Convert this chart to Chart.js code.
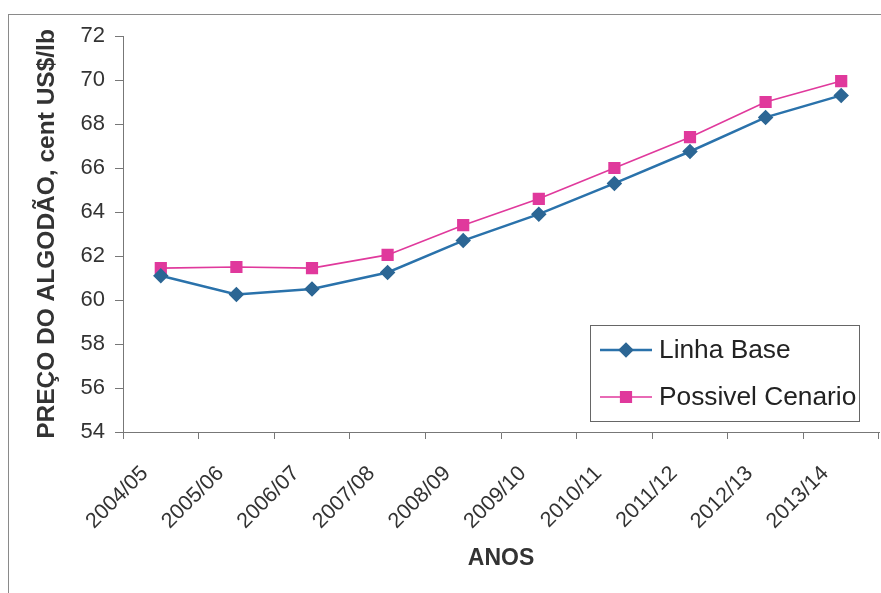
<!DOCTYPE html>
<html>
<head>
<meta charset="utf-8">
<script src="https://cdn.jsdelivr.net/npm/chart.js@4.4.0/dist/chart.umd.min.js"></script>
<style>
  body { margin: 0; background: #fff; }
  #wrap { position: relative; width: 881px; height: 593px; }
  #frame { position: absolute; left: 8px; top: 14px; right: 0; bottom: 0; border-left: 1px solid #8a8a8a; border-top: 1px solid #8a8a8a; }
</style>
</head>
<body>
<div id="wrap">
  <div id="frame"></div>
  <canvas id="precoChart"></canvas>
</div>
<script>
// safras (categories)
const anos = ['2004/05', '2005/06', '2006/07', '2007/08', '2008/09', '2009/10', '2010/11', '2011/12', '2012/13', '2013/14'];
// cent US$/lb
const linhaBase = [61.1, 60.25, 60.5, 61.25, 62.7, 63.9, 65.3, 66.75, 68.3, 69.3];
const possivelCenario = [61.45, 61.5, 61.45, 62.05, 63.4, 64.6, 66.0, 67.4, 69.0, 69.95];
const yTicks = [54, 56, 58, 60, 62, 64, 66, 68, 70, 72];

const FONT = "'Liberation Sans', Arial, sans-serif";

// legend drawn inside the plot area, like the excel one
const boxLegend = {
    id: 'boxLegend',
    afterDraw(chart) {
        const ctx = chart.ctx;
        const area = chart.chartArea;
        const w = 269, h = 96;
        const x0 = area.right - 20 - w;
        const y0 = area.bottom - 11 - h;
        ctx.save();
        ctx.fillStyle = '#fff';
        ctx.fillRect(x0, y0, w, h);
        ctx.strokeStyle = '#666';
        ctx.lineWidth = 1;
        ctx.strokeRect(x0 + 0.5, y0 + 0.5, w, h);
        ctx.font = '26.3px ' + FONT;
        ctx.textBaseline = 'middle';
        chart.data.datasets.forEach(function (ds, i) {
            const y = y0 + 25 + i * 47;
            ctx.strokeStyle = ds.borderColor;
            ctx.lineWidth = ds.borderWidth;
            ctx.beginPath();
            ctx.moveTo(x0 + 10, y);
            ctx.lineTo(x0 + 62, y);
            ctx.stroke();
            ctx.fillStyle = ds.pointBackgroundColor;
            ctx.strokeStyle = ds.pointBorderColor;
            Chart.helpers.drawPoint(ctx, {
                pointStyle: ds.pointStyle,
                radius: ds.pointRadius,
                rotation: 0,
                borderWidth: 1
            }, x0 + 36, y);
            ctx.fillStyle = '#222';
            ctx.fillText(ds.label, x0 + 69, y + 1);
        });
        ctx.restore();
    }
};

const ctxPreco = document.getElementById('precoChart');
const precoChart = new Chart(ctxPreco, {
    type: 'line',
    data: {
        labels: anos,
        datasets: [{
            label: 'Linha Base',
            data: linhaBase,
            borderColor: '#2a72ab',
            borderWidth: 2.5,
            pointStyle: 'rectRot',
            pointRadius: 6,
            pointHoverRadius: 6,
            pointBackgroundColor: '#2c6694',
            pointBorderColor: '#2c6694',
            tension: 0
        }, {
            label: 'Possivel Cenario',
            data: possivelCenario,
            borderColor: '#e0399c',
            borderWidth: 1.6,
            pointStyle: 'rect',
            pointRadius: 7.5,
            pointHoverRadius: 7.5,
            pointBackgroundColor: '#e0399c',
            pointBorderColor: '#e0399c',
            tension: 0
        }]
    },
    options: {
        responsive: true,
        maintainAspectRatio: false,
        animation: false,
        layout: {
            autoPadding: false,
            padding: { left: 29, top: 36, right: 2, bottom: 17 }
        },
        plugins: {
            legend: { display: false },
            tooltip: { enabled: false }
        },
        scales: {
            x: {
                offset: true,
                grid: {
                    offset: true,
                    drawOnChartArea: false,
                    tickLength: 7,
                    color: '#777'
                },
                border: { color: '#777', width: 1 },
                ticks: {
                    minRotation: 45,
                    maxRotation: 45,
                    autoSkip: false,
                    padding: 22,
                    labelOffset: -16,
                    color: '#333',
                    font: { family: FONT, size: 21.5 }
                },
                title: {
                    display: true,
                    text: 'ANOS',
                    color: '#333',
                    font: { family: FONT, size: 23, weight: 'bold' }
                },
                afterFit(scale) {
                    scale.height = 144;
                    scale.paddingLeft = 0;
                    scale.paddingRight = 0;
                }
            },
            y: {
                min: 54,
                max: 72,
                afterBuildTicks(scale) {
                    scale.ticks = yTicks.map(function (v) { return { value: v }; });
                },
                grid: {
                    drawOnChartArea: false,
                    tickLength: 8,
                    color: '#777'
                },
                border: { color: '#777', width: 1 },
                ticks: {
                    padding: 10,
                    color: '#333',
                    font: { family: FONT, size: 22 }
                },
                title: {
                    display: true,
                    text: 'PREÇO DO ALGODÃO, cent US$/lb',
                    color: '#333',
                    font: { family: FONT, size: 24.5, weight: 'bold' }
                },
                afterFit(scale) { scale.width = 94; }
            }
        }
    },
    plugins: [boxLegend]
});
</script>
</body>
</html>
